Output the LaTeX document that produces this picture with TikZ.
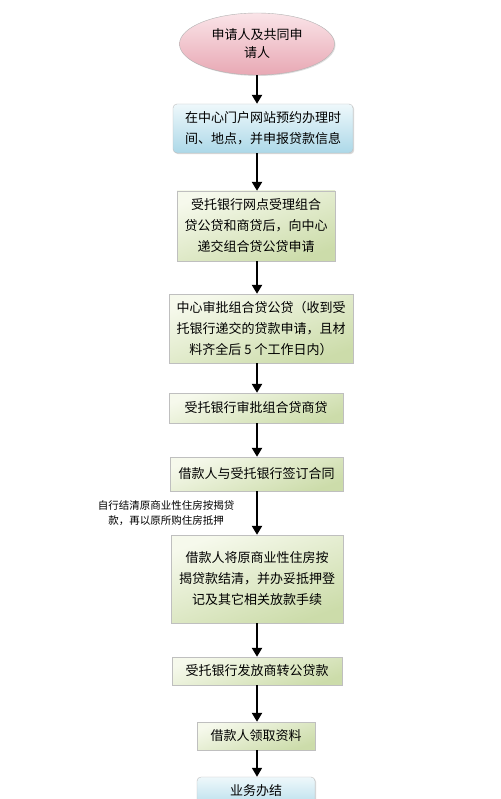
\documentclass[tikz,border=0pt]{standalone}
\usepackage{fontspec}
\newfontfamily\cjk{Noto Sans CJK SC}
\usetikzlibrary{arrows.meta,shadows,shapes.geometric}
\definecolor{pinkL}{RGB}{250,228,232}
\definecolor{pinkD}{RGB}{232,168,180}
\definecolor{blueL}{RGB}{238,248,251}
\definecolor{blueD}{RGB}{172,216,232}
\definecolor{greenL}{RGB}{246,249,236}
\definecolor{greenD}{RGB}{204,220,170}

\begin{document}
\begin{tikzpicture}[x=1pt,y=-1pt,
  box/.style={rectangle, draw=black!25, line width=0.4pt, align=center,
    inner sep=0pt, font=\cjk\fontsize{13}{21}\selectfont,
    drop shadow={shadow xshift=1.2pt, shadow yshift=-1.2pt, fill=black!30}},
  greenbox/.style={box, top color=greenL, bottom color=greenD, shading angle=20},
  bluebox/.style={box, rounded corners=4pt, top color=blueL, bottom color=blueD},
  arr/.style={line width=2.6pt, -{Triangle[width=10pt,length=9pt]}}]
  \clip (0,0) rectangle (500,799);
  \fill[white] (0,0) rectangle (500,799);

  % start
  \node[ellipse, draw=black!30, top color=pinkL, bottom color=pinkD,
        minimum width=155pt, minimum height=62pt, inner sep=0pt, align=center,
        font=\cjk\fontsize{13}{18}\selectfont,
        drop shadow={shadow xshift=1pt, shadow yshift=-1pt, fill=black!25}]
        (apply) at (257,44) {申请人及共同申\\请人};

  % steps
  \node[bluebox, minimum width=180pt, minimum height=49pt] (book) at (263,128.5)
        {在中心门户网站预约办理时\\间、地点，并申报贷款信息};
  \node[greenbox, minimum width=158pt, minimum height=70pt] (accept) at (256,226)
        {受托银行网点受理组合\\贷公贷和商贷后，向中心\\递交组合贷公贷申请};
  \node[greenbox, minimum width=184pt, minimum height=69pt] (centre) at (261,328.5)
        {中心审批组合贷公贷（收到受\\托银行递交的贷款申请，且材\\料齐全后 5 个工作日内）};
  \node[greenbox, minimum width=174pt, minimum height=30pt] (bankok) at (256,408)
        {受托银行审批组合贷商贷};
  \node[greenbox, minimum width=173pt, minimum height=34pt] (sign) at (256.5,474)
        {借款人与受托银行签订合同};
  \node[greenbox, minimum width=172pt, minimum height=88pt] (settle) at (257,579)
        {借款人将原商业性住房按\\揭贷款结清，并办妥抵押登\\记及其它相关放款手续};
  \node[greenbox, minimum width=170pt, minimum height=28pt] (payout) at (257,671)
        {受托银行发放商转公贷款};
  \node[greenbox, minimum width=118pt, minimum height=28pt] (docs) at (256,736)
        {借款人领取资料};
  \node[bluebox, minimum width=118pt, minimum height=36pt] (done) at (256,795) {};
  \node[font=\cjk\fontsize{13}{21}\selectfont] (donetext) at (256,791) {业务办结};

  % side note
  \node[align=center, font=\cjk\fontsize{10.5}{15}\selectfont] (note) at (166,513)
        {自行结清原商业性住房按揭贷\\款，再以原所购住房抵押};

  % arrows
  \draw[arr] (apply.south) -- (apply.south |- book.north);
  \draw[arr] (book.south -| apply.south) -- (accept.north -| apply.south);
  \draw[arr] (accept.south -| apply.south) -- (centre.north -| apply.south);
  \draw[arr] (centre.south -| apply.south) -- (bankok.north -| apply.south);
  \draw[arr] (bankok.south -| apply.south) -- (sign.north -| apply.south);
  \draw[arr] (sign.south -| apply.south) -- (settle.north -| apply.south);
  \draw[arr] (settle.south -| apply.south) -- (payout.north -| apply.south);
  \draw[arr] (payout.south -| apply.south) -- (docs.north -| apply.south);
  \draw[arr, line width=1.6pt] (docs.south -| apply.south) -- (done.north -| apply.south);
\end{tikzpicture}
\end{document}
